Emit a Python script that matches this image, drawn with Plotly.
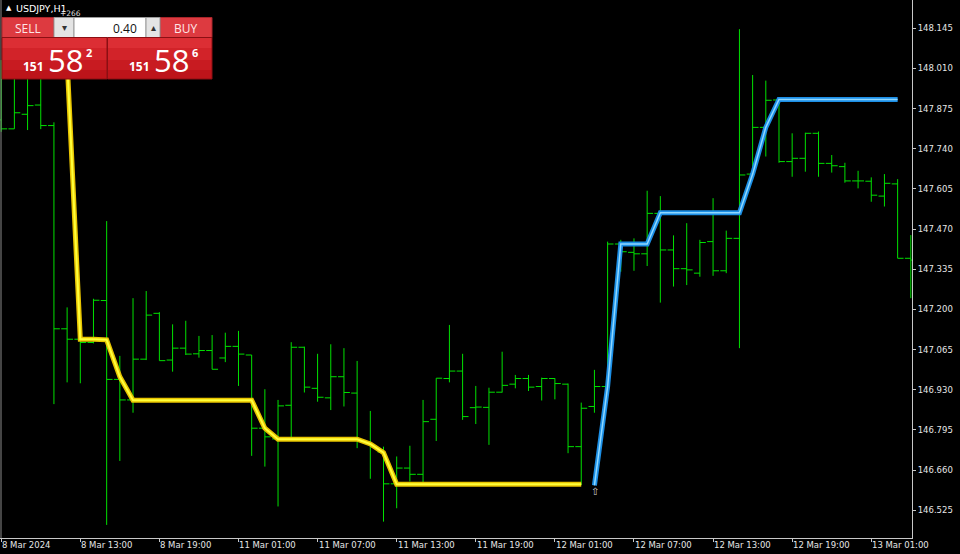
import plotly.graph_objects as go

# ---------------- data ----------------
bar_index = list(range(70))  # H1 bars, 8 Mar 2024 07:00 ... 13 Mar 04:00
open_ = [147.837, 147.807, 147.856, 147.887, 147.818, 147.135, 147.100, 147.089, 147.230, 146.965,
         146.896, 147.033, 147.187, 147.030, 147.070, 147.051, 147.062, 147.037, 147.076, 147.047,
         146.801, 146.765, 146.878, 147.073, 146.935, 146.903, 146.974, 146.919, 146.755, 146.721,
         146.614, 146.667, 146.646, 146.831, 146.968, 146.993, 146.870, 146.871, 146.922, 146.949,
         146.968, 146.941, 146.968, 146.949, 146.739, 146.874, 146.941, 147.420, 147.392, 147.387,
         147.523, 147.400, 147.337, 147.322, 147.428, 147.330, 147.439, 147.655, 147.812, 147.904,
         147.697, 147.708, 147.792, 147.691, 147.680, 147.632, 147.631, 147.581, 147.622, 147.372]
high = [148.038, 148.005, 148.022, 148.005, 147.829, 147.207, 147.109, 147.236, 147.497, 147.044,
        147.238, 147.262, 147.191, 147.150, 147.162, 147.111, 147.114, 147.122, 147.128, 147.047,
        146.932, 146.896, 147.090, 147.075, 147.051, 147.083, 147.070, 147.027, 146.859, 146.739,
        146.706, 146.742, 146.896, 146.969, 147.148, 147.051, 146.943, 146.937, 147.058, 146.980,
        146.980, 146.971, 146.969, 146.951, 146.887, 146.997, 147.428, 147.434, 147.439, 147.599,
        147.581, 147.449, 147.490, 147.434, 147.574, 147.465, 148.142, 147.988, 147.969, 147.906,
        147.792, 147.794, 147.798, 147.719, 147.693, 147.666, 147.644, 147.655, 147.638, 147.450]
low = [147.797, 147.807, 147.803, 147.806, 146.882, 146.955, 146.952, 147.086, 146.476, 146.691,
       146.853, 147.030, 147.028, 146.991, 147.047, 147.038, 146.999, 147.023, 146.943, 146.708,
       146.672, 146.538, 146.762, 146.921, 146.890, 146.862, 146.874, 146.734, 146.631, 146.487,
       146.532, 146.622, 146.620, 146.758, 146.955, 146.829, 146.815, 146.745, 146.921, 146.935,
       146.926, 146.894, 146.898, 146.717, 146.610, 146.853, 146.941, 147.327, 147.330, 147.346,
       147.223, 147.277, 147.282, 147.310, 147.313, 147.322, 147.070, 147.646, 147.714, 147.693,
       147.646, 147.663, 147.646, 147.660, 147.626, 147.607, 147.562, 147.546, 147.372, 147.238]
close = [147.807, 147.861, 147.885, 147.818, 147.135, 147.100, 147.089, 147.231, 146.965, 146.896,
         147.033, 147.181, 147.028, 147.070, 147.050, 147.062, 146.999, 147.076, 147.050, 146.801,
         146.772, 146.876, 147.073, 146.939, 146.905, 146.974, 146.921, 146.758, 146.741, 146.614,
         146.667, 146.646, 146.823, 146.969, 146.993, 146.840, 146.872, 146.922, 146.945, 146.968,
         146.939, 146.968, 146.951, 146.739, 146.868, 146.941, 147.420, 147.394, 147.387, 147.523,
         147.400, 147.337, 147.333, 147.425, 147.330, 147.439, 147.652, 147.812, 147.903, 147.697,
         147.708, 147.792, 147.691, 147.683, 147.632, 147.632, 147.584, 147.624, 147.372, 147.366]

# trailing line, down phase (yellow)
yellow_index = list(range(5, 45))
yellow = [148.038, 147.100, 147.100, 147.098, 146.974,
          146.895, 146.895, 146.895, 146.895, 146.895, 146.895, 146.895, 146.895, 146.895, 146.895,
          146.801,
          146.764, 146.764, 146.764, 146.764, 146.764, 146.764, 146.764,
          146.748, 146.719,
          146.613, 146.613, 146.613, 146.613, 146.613, 146.613, 146.613, 146.613, 146.613, 146.613,
          146.613, 146.613, 146.613, 146.613, 146.613]
# trailing line, up phase (blue)
blue_index = list(range(45, 69))
blue = [146.609, 146.941,
        147.420, 147.420, 147.420,
        147.525, 147.525, 147.525, 147.525, 147.525, 147.525, 147.525,
        147.655, 147.812,
        147.906, 147.906, 147.906, 147.906, 147.906, 147.906, 147.906, 147.906, 147.906, 147.906]

price_ticks = [148.145, 148.010, 147.875, 147.740, 147.605, 147.470, 147.335,
               147.200, 147.065, 146.930, 146.795, 146.660, 146.525]
time_tick_index = [0, 6, 12, 18, 24, 30, 36, 42, 48, 54, 60, 66]
time_tick_labels = ["8 Mar 2024", "8 Mar 13:00", "8 Mar 19:00", "11 Mar 01:00", "11 Mar 07:00",
                    "11 Mar 13:00", "11 Mar 19:00", "12 Mar 01:00", "12 Mar 07:00",
                    "12 Mar 13:00", "12 Mar 19:00", "13 Mar 01:00"]

# ---------------- figure ----------------
BAR = "#00e000"
AX = "#c8c8c8"
TXT = "#e6e6e6"
FONT = "DejaVu Sans"

fig = go.Figure()
fig.add_trace(go.Ohlc(
    x=bar_index, open=open_, high=high, low=low, close=close,
    increasing=dict(line=dict(color=BAR, width=1)),
    decreasing=dict(line=dict(color=BAR, width=1)),
    tickwidth=0.45, hoverinfo="skip", showlegend=False))

fig.add_trace(go.Scatter(x=yellow_index, y=yellow, mode="lines",
                         line=dict(color="#e8c400", width=5), hoverinfo="skip", showlegend=False))
fig.add_trace(go.Scatter(x=yellow_index, y=yellow, mode="lines",
                         line=dict(color="#ffff3a", width=2), hoverinfo="skip", showlegend=False))
fig.add_trace(go.Scatter(x=blue_index, y=blue, mode="lines",
                         line=dict(color="#1c8fe6", width=5), hoverinfo="skip", showlegend=False))
fig.add_trace(go.Scatter(x=blue_index, y=blue, mode="lines",
                         line=dict(color="#8fd8ff", width=1.5), hoverinfo="skip", showlegend=False))
# dummy trace for the pixel overlay axes
fig.add_trace(go.Scatter(x=[0], y=[0], xaxis="x2", yaxis="y2", mode="markers",
                         marker=dict(opacity=0), hoverinfo="skip", showlegend=False))

# bottom time labels (left-aligned at their tick, MT4 style)
annotations = []
for idx, lab in zip(time_tick_index, time_tick_labels):
    annotations.append(dict(x=idx, y=0, xref="x", yref="paper", text=lab, showarrow=False,
                            xanchor="left", yanchor="top", xshift=-1, yshift=0,
                            font=dict(family=FONT, size=8.5, color=TXT)))

# ---------- one-click trading panel overlay (pixel coordinates on x2/y2) ----------
shapes = []
def rect(x0, y0, x1, y1, fill, line=None, lw=1):
    shapes.append(dict(type="rect", xref="x2", yref="y2", x0=x0, y0=y0, x1=x1, y1=y1,
                       fillcolor=fill, line=dict(color=line or fill, width=lw if line else 0),
                       layer="above"))

# left frame border
shapes.append(dict(type="line", xref="x2", yref="y2", x0=1, y0=0, x1=1, y1=538,
                   line=dict(color="#8a8a8a", width=1), layer="above"))
# top row
rect(2, 17.5, 54, 37.5, "#dd3a40", "#a8252a")
rect(160, 17.5, 212, 37.5, "#dd3a40", "#a8252a")
rect(54, 17.5, 74, 37.5, "#e4e4e4", "#9a9a9a")
rect(74, 17.5, 146, 37.5, "#ffffff", "#9a9a9a")
rect(146, 17.5, 160, 37.5, "#e4e4e4", "#9a9a9a")
# price boxes with a simple vertical gradient
for (x0, x1) in [(2, 107), (107.5, 212)]:
    rect(x0, 37.5, x1, 48, "#dc2e34")
    rect(x0, 48, x1, 60, "#d22329")
    rect(x0, 60, x1, 70, "#c81b21")
    rect(x0, 70, x1, 79, "#bd141a")
    shapes.append(dict(type="rect", xref="x2", yref="y2", x0=x0, y0=37.5, x1=x1, y1=79,
                       fillcolor="rgba(0,0,0,0)", line=dict(color="#8c0f13", width=1),
                       layer="above"))

def txt(x, y, s, size, color="#ffffff", fam="Open Sans", anchor="center"):
    annotations.append(dict(x=x, y=y, xref="x2", yref="y2", text=s, showarrow=False,
                            xanchor=anchor, yanchor="middle",
                            font=dict(family=fam, size=size, color=color)))

txt(8.5, 8, "▲", 7, "#ffffff", FONT)
txt(14, 8, "USDJPY,H1", 9.5, "#ffffff", FONT, "left")
txt(58, 13, "+266", 7.5, "#dddddd", FONT, "left")
txt(28, 28, "SELL", 12, "#ffe6e6")
txt(186, 28, "BUY", 12, "#ffe6e6")
txt(64, 27.5, "▾", 10, "#333333", FONT)
txt(153, 27.5, "▴", 10, "#333333", FONT)
txt(139, 28, "0.40", 12, "#111111", "Open Sans", "right")
txt(33.5, 66, "<b>151</b>", 12)
txt(65.5, 59.5, "58", 31)
txt(88.5, 52.5, "<b>2</b>", 11)
txt(139, 66, "<b>151</b>", 12)
txt(171.5, 59.5, "58", 31)
txt(194.5, 52.5, "<b>6</b>", 11)
# mouse cursor near the line flip
txt(594.5, 491, "⇧", 10, "#cfcfcf", FONT)

fig.update_layout(
    width=960, height=554,
    margin=dict(l=0, r=48, t=0, b=16, pad=0),
    paper_bgcolor="#000000", plot_bgcolor="#000000",
    showlegend=False, hovermode=False,
    xaxis=dict(type="linear", range=[-0.091, 69.09], rangeslider=dict(visible=False),
               showgrid=False, zeroline=False, showline=True, linecolor=AX, linewidth=1,
               tickmode="array", tickvals=time_tick_index, showticklabels=False,
               ticks="outside", ticklen=3, tickcolor=AX, fixedrange=True),
    yaxis=dict(side="right", range=[146.432, 148.240], showgrid=False, zeroline=False,
               showline=True, linecolor=AX, linewidth=1,
               tickmode="array", tickvals=price_ticks,
               ticktext=[f"{v:.3f}" for v in price_ticks],
               ticks="outside", ticklen=3, tickcolor=AX,
               tickfont=dict(family=FONT, size=8.5, color=TXT), fixedrange=True),
    xaxis2=dict(range=[0, 912], overlaying="x", visible=False, fixedrange=True),
    yaxis2=dict(range=[538, 0], overlaying="y", visible=False, fixedrange=True),
    shapes=shapes, annotations=annotations,
)

fig.write_html("out.html", config={"displayModeBar": False},
               post_script="document.body.style.margin='0px';document.body.style.overflow='hidden';document.body.style.background='#000';")
